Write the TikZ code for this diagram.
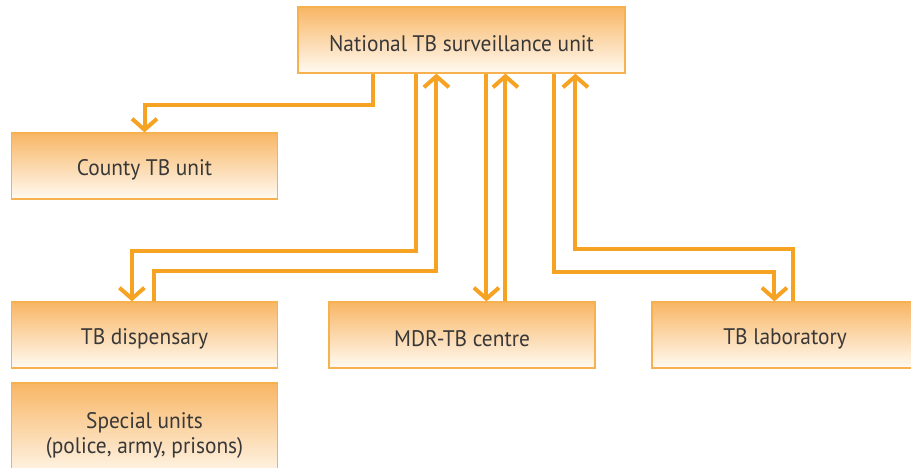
\documentclass[tikz,border=0pt]{standalone}
\usepackage{fontspec}
\newfontfamily\boxfont[FakeStretch=0.95]{PT Sans}
\usetikzlibrary{arrows.meta}
\definecolor{lineor}{HTML}{F6A323}
\definecolor{boxedge}{HTML}{F7B24F}
\definecolor{boxtop}{HTML}{F8B665}
\definecolor{boxbot}{HTML}{FFFAF2}
\definecolor{txt}{HTML}{383838}
\tikzset{
  unitbox/.style={draw=boxedge, line width=1.2pt, top color=boxtop, bottom color=boxbot,
    minimum width=266pt, minimum height=66pt, inner sep=0pt, align=center,
    text height=23pt,
    font=\boxfont\fontsize{22.5}{25.5}\selectfont, text=txt},
  flow/.style={draw=lineor, line width=4pt, -{Straight Barb[length=11pt,width=25pt]}}
}
\begin{document}
\begin{tikzpicture}[x=1pt,y=-1pt]
\useasboundingbox (0,0) rectangle (911,468);
\node[unitbox, minimum width=327pt] (nat) at (461.5,40) {National TB surveillance unit};
\node[unitbox] (county) at (144.5,166) {County TB unit};
\node[unitbox] (disp) at (144.5,335) {TB dispensary};
\node[unitbox, minimum height=98pt, text height=48pt] (spec) at (144.5,432) {Special units\\(police, army, prisons)};
\node[unitbox] (mdr) at (462,335) {MDR-TB centre};
\node[unitbox] (lab) at (785,335) {TB laboratory};
% national -> county
\draw[flow] ([xshift=76pt]nat.south west) -- ++(0,31) -| (county.north);
% national -> dispensary
\draw[flow] ([xshift=119pt]nat.south west) -- ++(0,177) -| ([xshift=121pt]disp.north west);
% dispensary -> national
\draw[flow] ([xshift=143pt]disp.north west) -- ++(0,-30) -| ([xshift=139pt]nat.south west);
% national -> MDR
\draw[flow] ([xshift=189pt]nat.south west) -- ([xshift=158pt]mdr.north west);
% MDR -> national
\draw[flow] ([xshift=177pt]mdr.north west) -- ([xshift=208pt]nat.south west);
% national -> lab
\draw[flow] ([xshift=257pt]nat.south west) -- ++(0,198) -| ([xshift=123pt]lab.north west);
% lab -> national
\draw[flow] ([xshift=142pt]lab.north west) -- ++(0,-52) -| ([xshift=278pt]nat.south west);
\end{tikzpicture}
\end{document}
